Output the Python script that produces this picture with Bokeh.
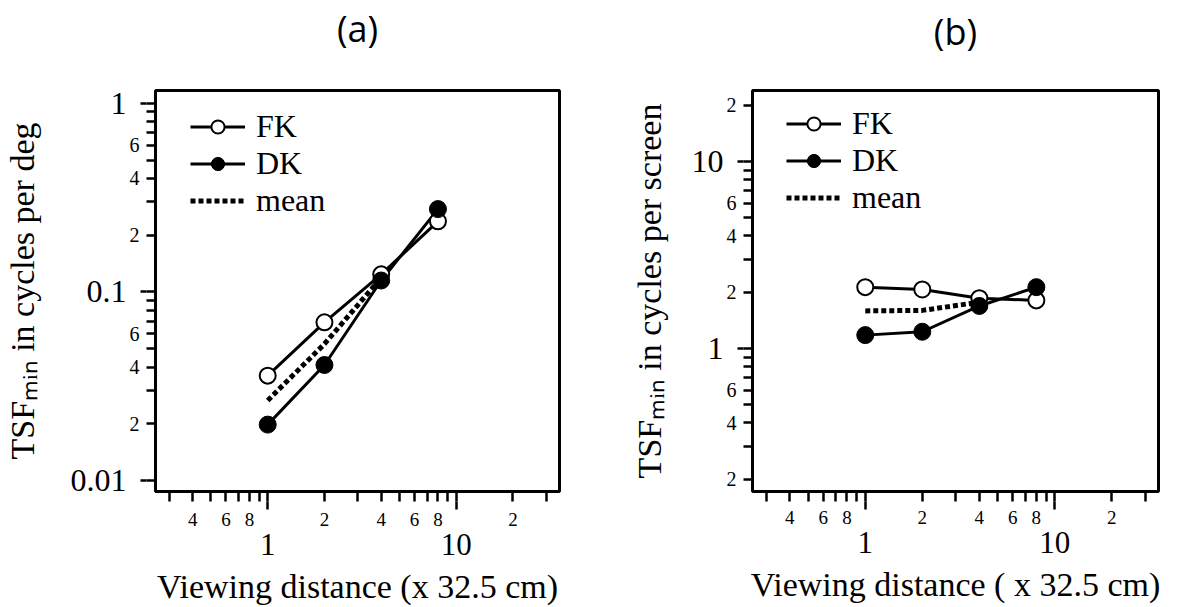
from bokeh.plotting import figure
from bokeh.models import Range1d, FixedTicker, LogAxis, Legend, LegendItem, Title
from bokeh.layouts import row
from bokeh.embed import file_html
from bokeh.resources import INLINE

# ---------------- data ----------------
distance = [1, 2, 4, 8]
mean_distance = [1, 2, 4]

a_fk = [0.036, 0.069, 0.124, 0.237]
a_dk = [0.0198, 0.041, 0.115, 0.275]
a_mean = [0.0266, 0.053, 0.119]

b_fk = [2.13, 2.07, 1.86, 1.81]
b_dk = [1.18, 1.23, 1.69, 2.13]
b_mean = [1.59, 1.60, 1.77]

# x axis ticks (shared)
x_major = [1, 10]
x_major_labels = ["1", "10"]
x_minor = [0.3, 0.4, 0.5, 0.6, 0.7, 0.8, 0.9, 2, 3, 4, 5, 6, 7, 8, 9, 20, 30]
x_small_vals = [0.4, 0.6, 0.8, 2, 4, 6, 8, 20]
x_small_text = ["4", "6", "8", "2", "4", "6", "8", "2"]

# panel (a) y ticks
a_y_major = [0.01, 0.1, 1]
a_y_major_labels = ["0.01", "0.1", "1"]
a_y_minor = [0.02, 0.03, 0.04, 0.05, 0.06, 0.07, 0.08, 0.09,
             0.2, 0.3, 0.4, 0.5, 0.6, 0.7, 0.8, 0.9]
a_y_small_vals = [0.02, 0.04, 0.06, 0.2, 0.4, 0.6]
a_y_small_text = ["2", "4", "6", "2", "4", "6"]

# panel (b) y ticks
b_y_major = [1, 10]
b_y_major_labels = ["1", "10"]
b_y_minor = [0.2, 0.3, 0.4, 0.5, 0.6, 0.7, 0.8, 0.9,
             2, 3, 4, 5, 6, 7, 8, 9, 20]
b_y_small_vals = [0.2, 0.4, 0.6, 2, 4, 6, 20]
b_y_small_text = ["2", "4", "6", "2", "4", "6", "2"]

X_RANGE = (0.254, 35.3)
SERIF = "Liberation Serif"
HEIGHT = 607


def style_axis(ax, tick_out, minor_out, font_size, standoff):
    ax.axis_line_color = None
    ax.major_tick_out = tick_out
    ax.major_tick_in = 0
    ax.minor_tick_out = minor_out
    ax.minor_tick_in = 0
    ax.major_tick_line_width = 2.5
    ax.minor_tick_line_width = 2.5
    ax.major_tick_line_color = "black" if tick_out > 0 else None
    ax.minor_tick_line_color = "black" if minor_out > 0 else None
    ax.major_label_text_font = SERIF
    ax.major_label_text_font_size = font_size
    ax.major_label_text_color = "black"
    ax.major_label_standoff = standoff


def make_panel(title, xlabel, ylabel, fk, dk, mean, yr, y_major, y_major_labels,
               y_minor, y_small_vals, y_small_text, width, mb_right, mb_top,
               mb_bottom, xs_extra, ylab_standoff, spacer, legend_loc):
    p = figure(width=width, height=HEIGHT, x_axis_type="log", y_axis_type="log",
               x_range=Range1d(*X_RANGE), y_range=Range1d(*yr),
               output_backend="svg", toolbar_location=None,
               min_border_left=152, min_border_right=mb_right,
               min_border_top=mb_top, min_border_bottom=mb_bottom)
    p.xgrid.visible = False
    p.ygrid.visible = False
    p.outline_line_color = "black"
    p.outline_line_width = 3
    p.outline_line_alpha = 1
    p.background_fill_color = "white"
    p.border_fill_color = "white"

    # title (outermost) + a blank spacer title next to the frame
    p.title.text = title
    p.title.align = "center"
    p.title.text_font = "Open Sans"
    p.title.text_font_size = "36px"
    p.title.text_font_style = "normal"
    p.title.text_color = "black"
    p.title.standoff = -10
    p.add_layout(Title(text=" ", text_font_size="1px", standoff=spacer), "above")

    # ---- x axes: ticks / small labels / decade labels + title ----
    x_all = sorted(x_major + x_minor)
    xa0 = p.xaxis[0]
    xa0.ticker = FixedTicker(ticks=x_all, minor_ticks=[])
    xa0.major_label_overrides = {v: "" for v in x_all}
    style_axis(xa0, 10, 0, "0px", 0)

    xa1 = LogAxis(ticker=FixedTicker(ticks=x_small_vals, minor_ticks=x_major),
                  major_label_overrides=dict(zip(x_small_vals, x_small_text)))
    style_axis(xa1, 0, 8, "19px", 3 + xs_extra)
    p.add_layout(xa1, "below")

    xa2 = LogAxis(ticker=FixedTicker(ticks=x_major, minor_ticks=[]),
                  major_label_overrides=dict(zip(x_major, x_major_labels)))
    style_axis(xa2, 0, 0, "31px", 5)
    xa2.axis_label = xlabel
    xa2.axis_label_text_font = SERIF
    xa2.axis_label_text_font_size = "34px"
    xa2.axis_label_text_font_style = "normal"
    xa2.axis_label_text_color = "black"
    xa2.axis_label_standoff = 10
    p.add_layout(xa2, "below")

    # ---- y axes ----
    y_all = sorted(y_major + y_minor)
    ya0 = p.yaxis[0]
    ya0.ticker = FixedTicker(ticks=y_all, minor_ticks=[])
    ya0.major_label_overrides = {v: "" for v in y_all}
    style_axis(ya0, 9, 0, "0px", 0)

    ya1 = LogAxis(ticker=FixedTicker(ticks=y_small_vals, minor_ticks=y_major),
                  major_label_overrides=dict(zip(y_small_vals, y_small_text)))
    style_axis(ya1, 0, 6, "20px", 1)
    p.add_layout(ya1, "left")

    ya2 = LogAxis(ticker=FixedTicker(ticks=y_major, minor_ticks=[]),
                  major_label_overrides=dict(zip(y_major, y_major_labels)))
    style_axis(ya2, 0, 0, "32px", 0)
    ya2.axis_label = ylabel
    ya2.axis_label_text_font = SERIF
    ya2.axis_label_text_font_size = "34px"
    ya2.axis_label_text_font_style = "normal"
    ya2.axis_label_text_color = "black"
    ya2.axis_label_standoff = ylab_standoff
    p.add_layout(ya2, "left")

    # ---- data ----
    l_mean = p.line(mean_distance, mean, line_color="black", line_width=5,
                    line_dash="5 3", line_cap="butt")
    l_fk = p.line(distance, fk, line_color="black", line_width=3)
    l_dk = p.line(distance, dk, line_color="black", line_width=3)
    s_fk = p.scatter(distance, fk, marker="circle", size=16, fill_color="white",
                     line_color="black", line_width=2)
    s_dk = p.scatter(distance, dk, marker="circle", size=17, fill_color="black",
                     line_color="black", line_width=1)

    legend = Legend(items=[LegendItem(label="FK", renderers=[l_fk, s_fk]),
                           LegendItem(label="DK", renderers=[l_dk, s_dk]),
                           LegendItem(label="mean", renderers=[l_mean])],
                    location=legend_loc)
    legend.glyph_width = 55
    legend.glyph_height = 33
    legend.label_height = 33
    legend.label_text_font = SERIF
    legend.label_text_font_size = "32px"
    legend.label_text_color = "black"
    legend.label_standoff = 11
    legend.spacing = -2
    legend.padding = 0
    legend.margin = 0
    legend.border_line_color = None
    legend.background_fill_alpha = 0
    p.add_layout(legend)
    return p


pa = make_panel("(a)", "Viewing distance (x 32.5 cm)",
                "TSF\u2098\u1d62\u2099 in cycles per deg",
                a_fk, a_dk, a_mean, (0.00875, 1.17), a_y_major, a_y_major_labels,
                a_y_minor, a_y_small_vals, a_y_small_text, 600, 41, 90, 114, 0, 27,
                40, (35, 272))
pb = make_panel("(b)", "Viewing distance ( x 32.5 cm)",
                "TSF\u2098\u1d62\u2099 in cycles per screen",
                b_fk, b_dk, b_mean, (0.172, 24.0), b_y_major, b_y_major_labels,
                b_y_minor, b_y_small_vals, b_y_small_text, 577, 19, 87, 116, -2, 21,
                37, (34, 275))

layout = row(pa, pb)
open("out.html", "w").write(file_html(layout, INLINE))
